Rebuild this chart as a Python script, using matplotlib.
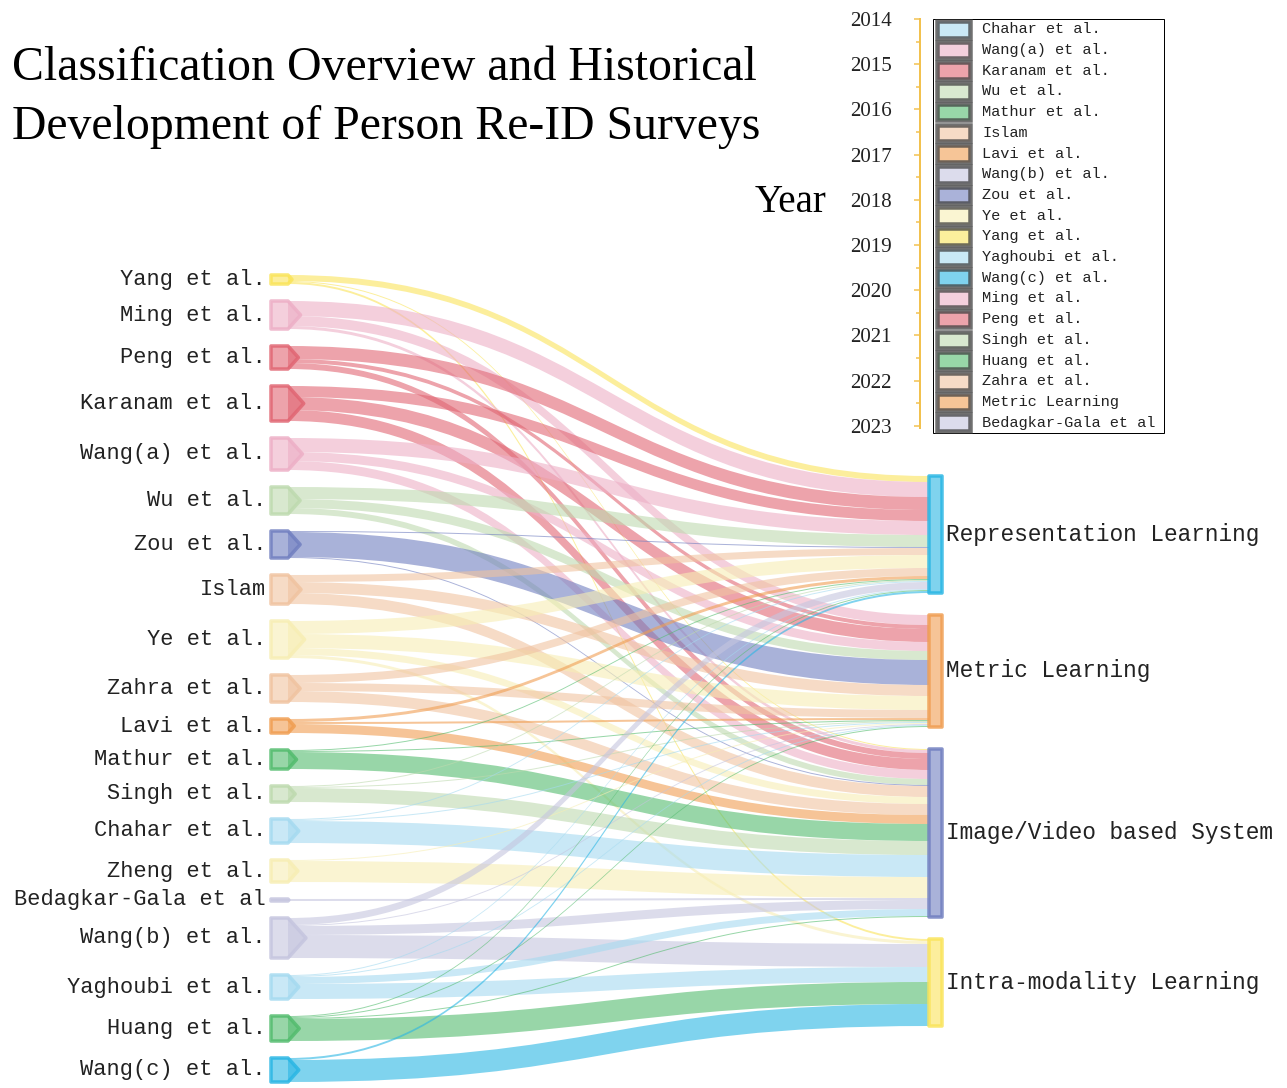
import matplotlib
matplotlib.use("Agg")
import matplotlib.pyplot as plt
from matplotlib.path import Path
from matplotlib.patches import PathPatch, Polygon, Rectangle
import matplotlib.colors as mcolors
import numpy as np

# ---------------- data ----------------
surveys = ["Yang et al.", "Ming et al.", "Peng et al.", "Karanam et al.", "Wang(a) et al.",
           "Wu et al.", "Zou et al.", "Islam", "Ye et al.", "Zahra et al.", "Lavi et al.",
           "Mathur et al.", "Singh et al.", "Chahar et al.", "Zheng et al.", "Bedagkar-Gala et al",
           "Wang(b) et al.", "Yaghoubi et al.", "Huang et al.", "Wang(c) et al."]
survey_colors = ["#fcef9c", "#f4cfdd", "#eda3ab", "#eda3ab", "#f4cfdd",
                 "#d8e9cf", "#aab2d9", "#f6dbc6", "#faf5d2", "#f6dbc6", "#f6c597",
                 "#98d7a8", "#d8e9cf", "#c9e9f6", "#faf5d2", "#dcdcec",
                 "#dcdcec", "#c9e9f6", "#98d7a8", "#7fd3ef"]

categories = ["Representation Learning", "Metric Learning",
              "Image/Video based System", "Intra-modality Learning"]
category_colors = ["#7fd3ef", "#f6c597", "#aab2d9", "#fcef9c"]

# flow values from each survey (same order as `surveys`) to each category
rep_learning    = [6, 15, 13, 11, 14, 12, 1, 7, 13, 8, 3, 1, 1, 1, 0, 0, 7, 1, 1, 2]
metric_learning = [0, 10, 4, 13, 9, 9, 25, 11, 14, 8, 2, 1, 1, 1, 1, 0, 1, 1, 1, 0]
image_video     = [1, 3, 6, 11, 9, 6, 1, 11, 7, 11, 9, 17, 14, 22, 21, 2, 9, 7, 1, 0]
intra_modality  = [2, 0, 0, 0, 0, 0, 0, 0, 3, 0, 0, 0, 0, 0, 0, 0, 23, 15, 22, 22]

legend_labels = ["Chahar et al.", "Wang(a) et al.", "Karanam et al.", "Wu et al.", "Mathur et al.",
                 "Islam", "Lavi et al.", "Wang(b) et al.", "Zou et al.", "Ye et al.", "Yang et al.",
                 "Yaghoubi et al.", "Wang(c) et al.", "Ming et al.", "Peng et al.", "Singh et al.",
                 "Huang et al.", "Zahra et al.", "Metric Learning", "Bedagkar-Gala et al"]
legend_colors = ["#c9e9f6", "#f4cfdd", "#eda3ab", "#d8e9cf", "#98d7a8",
                 "#f6dbc6", "#f6c597", "#dcdcec", "#aab2d9", "#faf5d2", "#fcef9c",
                 "#c9e9f6", "#7fd3ef", "#f4cfdd", "#eda3ab", "#d8e9cf",
                 "#98d7a8", "#f6dbc6", "#f6c597", "#dcdcec"]

years = list(range(2014, 2024))

title_lines = ["Classification Overview and Historical", "Development of Person Re-ID Surveys"]

# ---------------- helpers ----------------
W, H, DPI = 1287, 1088, 100
def pt(px):
    return px * 72.0 / DPI

ALPHA = 0.6
def base_color(pastel, a=ALPHA):
    c = np.array(mcolors.to_rgb(pastel))
    return tuple(np.clip(1 - (1 - c) / a, 0, 1))

SERIF = "Liberation Serif"
MONO = "Liberation Mono"

fig = plt.figure(figsize=(W / DPI, H / DPI), dpi=DPI)
ax = fig.add_axes([0, 0, 1, 1])
ax.set_xlim(0, W)
ax.set_ylim(H, 0)
ax.axis("off")

# ---------------- layout ----------------
flows = np.array([rep_learning, metric_learning, image_video, intra_modality])  # (4, 20)
src_tot = flows.sum(axis=0)
tgt_tot = flows.sum(axis=1)

left_top, left_bot, left_gap = 275.0, 1082.0, 17.0
scale = (left_bot - left_top - left_gap * (len(surveys) - 1)) / src_tot.sum()
src_y = []
y = left_top
for t in src_tot:
    src_y.append(y)
    y += t * scale + left_gap

right_top, right_gap = 476.0, 22.0
tgt_y = []
y = right_top
for t in tgt_tot:
    tgt_y.append(y)
    y += t * scale + right_gap

x_node_l = 271.0
box_w = 17.0
x_flow0 = x_node_l + box_w
x_node_r = 929.0
node_r_w = 13.0
x_flow1 = x_node_r

# outgoing at source ordered by target; incoming at target ordered by source
src_pos = {}
cur = list(src_y)
for i in range(len(surveys)):
    for j in range(len(categories)):
        v = flows[j, i]
        if v > 0:
            src_pos[(i, j)] = cur[i]
            cur[i] += v * scale
tgt_pos = {}
cur = list(tgt_y)
for j in range(len(categories)):
    for i in range(len(surveys)):
        v = flows[j, i]
        if v > 0:
            tgt_pos[(i, j)] = cur[j]
            cur[j] += v * scale

# ---------------- flows ----------------
xm = (x_flow0 + x_flow1) / 2
for i in range(len(surveys)):
    col = base_color(survey_colors[i])
    for j in range(len(categories)):
        v = flows[j, i]
        if v <= 0:
            continue
        w = v * scale
        y0a = src_pos[(i, j)]
        y1a = tgt_pos[(i, j)]
        y0b, y1b = y0a + w, y1a + w
        verts = [(x_flow0, y0a), (xm, y0a), (xm, y1a), (x_flow1, y1a),
                 (x_flow1, y1b), (xm, y1b), (xm, y0b), (x_flow0, y0b), (x_flow0, y0a)]
        codes = [Path.MOVETO, Path.CURVE4, Path.CURVE4, Path.CURVE4,
                 Path.LINETO, Path.CURVE4, Path.CURVE4, Path.CURVE4, Path.CLOSEPOLY]
        ax.add_patch(PathPatch(Path(verts, codes), facecolor=col, alpha=ALPHA,
                               edgecolor="none", zorder=1))

# ---------------- left nodes ----------------
for i, name in enumerate(surveys):
    h = src_tot[i] * scale
    top = src_y[i]
    c = top + h / 2
    tip = 0.45 * h
    pts = [(x_node_l, top), (x_node_l + box_w, top), (x_node_l + box_w + tip, c),
           (x_node_l + box_w, top + h), (x_node_l, top + h)]
    b = base_color(survey_colors[i])
    ax.add_patch(Polygon(pts, closed=True, facecolor=b + (0.6,),
                         edgecolor=b + (0.85,), lw=pt(3.5), joinstyle="round", zorder=3))
    ax.text(266, c, name, ha="right", va="center", fontsize=pt(22),
            family=MONO, color="#222222", zorder=4)

# ---------------- right nodes ----------------
for j, name in enumerate(categories):
    h = tgt_tot[j] * scale
    top = tgt_y[j]
    b = base_color(category_colors[j])
    ax.add_patch(Rectangle((x_node_r, top), node_r_w, h, facecolor=b + (0.6,),
                           edgecolor=b + (0.85,), lw=pt(3.5), joinstyle="round", zorder=3))
    ax.text(946, top + h / 2, name, ha="left", va="center", fontsize=pt(22.8),
            family=MONO, color="#222222", zorder=4)

# ---------------- title ----------------
ax.text(12, 68, title_lines[0], ha="left", va="center", fontsize=pt(47.8), family=SERIF, color="black")
ax.text(12, 127, title_lines[1], ha="left", va="center", fontsize=pt(47.8), family=SERIF, color="black")
ax.text(755, 203, "Year", ha="left", va="center", fontsize=pt(39), family=SERIF, color="black")

# ---------------- year axis ----------------
y_top_px, y_bot_px = 19.0, 428.0
yax = fig.add_axes([920 / W, 1 - y_bot_px / H, 0.0005, (y_bot_px - y_top_px) / H])
yax.set_ylim(2023.05, 2014)
yax.set_xlim(0, 1)
for s in ["top", "right", "bottom"]:
    yax.spines[s].set_visible(False)
gold = "#f2c14e"
yax.spines["left"].set_color(gold)
yax.spines["left"].set_linewidth(pt(2))
yax.set_xticks([])
yax.set_yticks(years)
yax.set_yticks([yr + 0.5 for yr in years[:-1]], minor=True)
yax.set_yticklabels([str(yr) for yr in years], fontsize=pt(21), family=SERIF, color="#222222")
yax.tick_params(axis="y", which="major", direction="out", length=pt(6), width=pt(1.5),
                color=gold, pad=pt(22))
yax.tick_params(axis="y", which="minor", direction="out", length=pt(4), width=pt(1.5), color=gold)
yax.patch.set_visible(False)

# ---------------- legend ----------------
lg_x0, lg_x1, lg_y0, lg_y1 = 933.0, 1164.0, 19.0, 433.0
ax.add_patch(Rectangle((lg_x0, lg_y0), lg_x1 - lg_x0, lg_y1 - lg_y0, facecolor="white",
                       edgecolor="black", lw=pt(1), zorder=5))
row_h = (lg_y1 - lg_y0) / len(legend_labels)
for k, (lab, colr) in enumerate(zip(legend_labels, legend_colors)):
    cy = lg_y0 + row_h * (k + 0.5)
    ax.add_patch(Rectangle((937, cy - row_h / 2 + 2), 33, row_h - 4, facecolor=colr,
                           edgecolor=(0.25, 0.25, 0.25, 0.75), lw=pt(4.5), zorder=6))
    ax.text(982, cy, lab, ha="left", va="center", fontsize=pt(15.2), family=MONO,
            color="#222222", zorder=7)

fig.savefig("out.png", dpi=DPI)
